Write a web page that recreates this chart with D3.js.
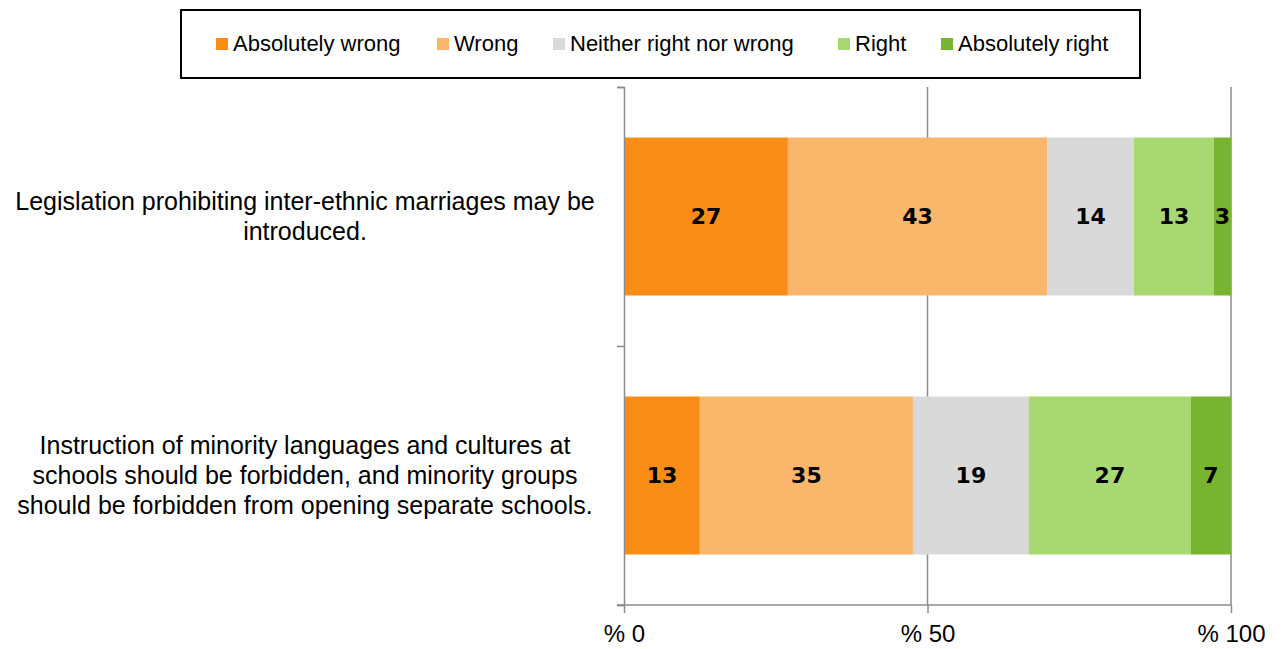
<!DOCTYPE html>
<html>
<head>
<meta charset="utf-8">
<script src="https://cdn.jsdelivr.net/npm/d3@7"></script>
<style>
  body { margin: 0; background: #fff; }
  svg { display: block; }
</style>
</head>
<body>
<script>
// categories (top to bottom)
var categories = [
  ["Legislation prohibiting inter-ethnic marriages may be", "introduced."],
  ["Instruction of minority languages and cultures at", "schools should be forbidden, and minority groups", "should be forbidden from opening separate schools."]
];
var seriesNames = ["Absolutely wrong", "Wrong", "Neither right nor wrong", "Right", "Absolutely right"];
var seriesColors = ["#f98d16", "#fab66a", "#d9d9d9", "#a8d970", "#77b530"];
// percent values per category, one array per series
var absolutelyWrong = [27.0, 12.5];
var wrong = [42.7, 35.1];
var neither = [14.3, 19.1];
var right = [13.2, 26.7];
var absolutelyRight = [2.8, 6.6];
var xTicks = [0, 50, 100];

var width = 1284, height = 649;
var margin = {left: 624, right: 53, top: 87, bottom: 44};

var svg = d3.select("body").append("svg").attr("width", width).attr("height", height);

var rows = categories.map(function(c, i){
  return { key: i, "Absolutely wrong": absolutelyWrong[i], "Wrong": wrong[i],
           "Neither right nor wrong": neither[i], "Right": right[i], "Absolutely right": absolutelyRight[i] };
});

var x = d3.scaleLinear().domain([0, 100]).range([margin.left, width - margin.right]);
var y = d3.scaleBand().domain(d3.range(categories.length))
          .range([margin.top, height - margin.bottom]).paddingInner(0.39).paddingOuter(0.195);
var color = d3.scaleOrdinal().domain(seriesNames).range(seriesColors);

var stack = d3.stack().keys(seriesNames);
var layers = stack(rows);

var axisColor = "#8c8c8c";
var textFont = "'Liberation Sans', Arial, sans-serif";

// gridlines
svg.append("g").selectAll("line").data(xTicks.slice(1)).enter().append("line")
  .attr("x1", function(d){ return x(d); }).attr("x2", function(d){ return x(d); })
  .attr("y1", margin.top).attr("y2", height - margin.bottom)
  .attr("stroke", axisColor).attr("stroke-width", 1.5);

// bars
var layer = svg.append("g").selectAll("g").data(layers).enter().append("g")
  .attr("fill", function(d){ return color(d.key); });
layer.selectAll("rect").data(function(d){ return d; }).enter().append("rect")
  .attr("x", function(d){ return x(d[0]); })
  .attr("width", function(d){ return x(d[1]) - x(d[0]); })
  .attr("y", function(d, i){ return y(i); })
  .attr("height", y.bandwidth());

// value labels
layer.selectAll("text").data(function(d){ return d; }).enter().append("text")
  .attr("x", function(d){ return (x(d[0]) + x(d[1])) / 2; })
  .attr("y", function(d, i){ return y(i) + y.bandwidth() / 2; })
  .attr("dy", "0.36em")
  .attr("text-anchor", "middle")
  .attr("font-family", "'DejaVu Sans', sans-serif")
  .attr("font-weight", "bold")
  .attr("font-size", 22)
  .attr("fill", "#000")
  .text(function(d){ return Math.round(d[1] - d[0]); });

// y axis (band boundaries as ticks)
var yEdge = d3.scaleLinear().domain([0, categories.length]).range([margin.top, height - margin.bottom]);
var yAxis = d3.axisLeft(yEdge).tickValues(d3.range(categories.length + 1)).tickSize(7).tickFormat("");
var gy = svg.append("g").attr("transform", "translate(" + margin.left + ",0)").call(yAxis);
gy.select(".domain").attr("stroke", axisColor).attr("stroke-width", 1.5);
gy.selectAll(".tick line").attr("stroke", axisColor).attr("stroke-width", 1.5);

// x axis
var xAxis = d3.axisBottom(x).tickValues(xTicks).tickSize(8).tickPadding(12)
  .tickFormat(function(d){ return "% " + d; });
var gx = svg.append("g").attr("transform", "translate(0," + (height - margin.bottom) + ")").call(xAxis);
gx.select(".domain").attr("stroke", axisColor).attr("stroke-width", 1.5).attr("d", "M" + (margin.left - 7) + ",0H" + x(100));
gx.selectAll(".tick line").attr("stroke", axisColor).attr("stroke-width", 1.5);
gx.selectAll(".tick text").attr("font-family", textFont)
  .attr("font-size", 24).attr("fill", "#000");

// category labels
var catG = svg.append("g");
categories.forEach(function(lines, i){
  var cy = y(i) + y.bandwidth() / 2;
  var lh = 30;
  var t = catG.append("text")
    .attr("text-anchor", "middle")
    .attr("font-family", textFont)
    .attr("font-size", 25)
    .attr("fill", "#000");
  lines.forEach(function(l, j){
    t.append("tspan").attr("x", 305)
      .attr("y", cy + (j - (lines.length - 1) / 2) * lh)
      .attr("dy", "0.35em").text(l);
  });
});

// legend
var legend = svg.append("g");
legend.append("rect").attr("x", 181).attr("y", 10).attr("width", 959).attr("height", 68)
  .attr("fill", "#fff").attr("stroke", "#000").attr("stroke-width", 2);
var legendX = [216, 437, 553, 838, 941];
var li = legend.selectAll("g.item").data(seriesNames).enter().append("g")
  .attr("class", "item")
  .attr("transform", function(d, i){ return "translate(" + legendX[i] + ",44)"; });
li.append("rect").attr("x", 0).attr("y", -6).attr("width", 12).attr("height", 12)
  .attr("fill", function(d){ return color(d); });
li.append("text").attr("x", 17).attr("dy", "0.32em")
  .attr("font-family", textFont)
  .attr("font-size", 22).attr("fill", "#000")
  .text(function(d){ return d; });
</script>
</body>
</html>
